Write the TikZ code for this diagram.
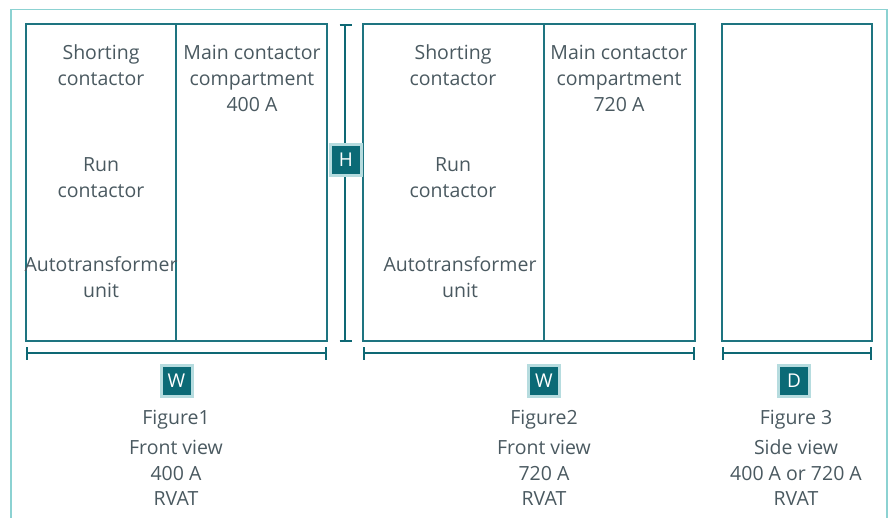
\documentclass[tikz,border=0pt]{standalone}
\usepackage{fontspec}
\setmainfont{Open Sans}
\definecolor{frame}{HTML}{8CD2D2}
\definecolor{boxline}{HTML}{1E7480}
\definecolor{dimline}{HTML}{0E6874}
\definecolor{badgefill}{HTML}{0B6A76}
\definecolor{badgeedge}{HTML}{B6DCDF}
\definecolor{txt}{HTML}{4A5960}
\begin{document}
\begin{tikzpicture}[x=1pt,y=-1pt,
  cabinet/.style={draw=boxline,line width=1.1pt},
  dimen/.style={draw=dimline,line width=2.6pt},
  tickmark/.style={draw=dimline,line width=2.4pt},
  badge/.style={fill=badgefill,draw=badgeedge,line width=3pt,minimum size=31pt,inner sep=0pt,text=white,font=\fontsize{19}{19}\selectfont},
  lbl/.style={text=txt,align=center,font=\fontsize{19.5}{26}\selectfont,inner sep=0pt},
  captext/.style={text=txt,align=center,font=\fontsize{19.5}{25.5}\selectfont,inner sep=0pt}]
\useasboundingbox (0,0) rectangle (888,518);
% outer frame (open at the bottom)
\draw[frame,line width=1.5pt] (11,518) -- (11,9.5) -- (887,9.5) -- (887,518);

% cabinets
\draw[cabinet] (26,24) rectangle (327,341);
\draw[cabinet] (176,24) -- (176,341);
\draw[cabinet] (363,24) rectangle (695,341);
\draw[cabinet] (544,24) -- (544,341);
\draw[cabinet] (722,24) rectangle (872,341);

% compartment labels, figure 1
\node[lbl] (s1) at (101,65) {Shorting\\contactor};
\node[lbl] (r1) at (101,178) {Run\\contactor};
\node[lbl] (a1) at (101,277) {Autotransformer\\unit};
\node[lbl] (m1) at (252,78) {Main contactor\\compartment\\400 A};
% compartment labels, figure 2
\node[lbl] (s2) at (453,65) {Shorting\\contactor};
\node[lbl] (r2) at (453,178) {Run\\contactor};
\node[lbl] (a2) at (460,277) {Autotransformer\\unit};
\node[lbl] (m2) at (619,78) {Main contactor\\compartment\\720 A};

% height dimension
\coordinate (ht) at (345,25);
\coordinate (hb) at (345,341);
\draw[dimen] (ht) -- (hb);
\draw[tickmark] (339.5,25) -- (351.5,25);
\draw[tickmark] (339.5,341) -- (351.5,341);
\node[badge] (H) at (346,160) {H};

% width / depth dimensions
\foreach \a/\b/\n in {26/327/w1,363/695/w2,722/872/d3}{
  \coordinate (\n l) at (\a,353);
  \coordinate (\n r) at (\b,353);
  \draw[dimen] (\n l) -- (\n r);
  \draw[tickmark] (\a+1,347) -- (\a+1,359.5);
  \draw[tickmark] (\b-1,347) -- (\b-1,359.5);
}
\node[badge] (W1) at (176.5,381) {W};
\node[badge] (W2) at (544,381) {W};
\node[badge] (D3) at (794,381) {D};

% captions
\node[captext] (f1) at (176,420) {Figure1};
\node[captext] (c1) at (176,473) {Front view\\400 A\\RVAT};
\node[captext] (f2) at (544,420) {Figure2};
\node[captext] (c2) at (544,473) {Front view\\720 A\\RVAT};
\node[captext] (f3) at (796,420) {Figure 3};
\node[captext] (c3) at (796,473) {Side view\\400 A or 720 A\\RVAT};
\end{tikzpicture}
\end{document}
